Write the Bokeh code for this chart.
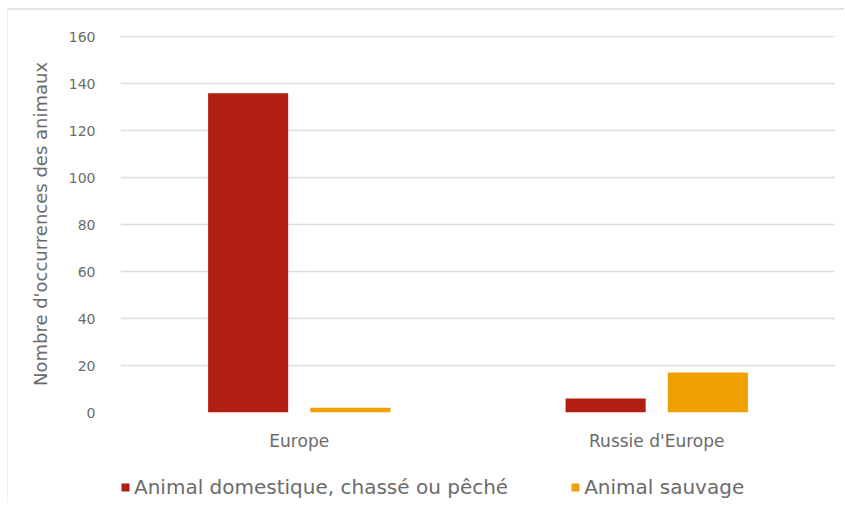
from bokeh.plotting import figure
from bokeh.models import ColumnDataSource, FactorRange, Legend, LegendItem, Range1d, FixedTicker
from bokeh.layouts import column
from bokeh.transform import dodge
from bokeh.embed import file_html
from bokeh.resources import INLINE

categories = ["Europe", "Russie d'Europe"]
domestique = [136, 6]
sauvage = [2, 17]
series_names = ["Animal domestique, chassé ou pêché", "Animal sauvage"]
colors = ["#b01f12", "#f0a000"]
y_ticks = [0, 20, 40, 60, 80, 100, 120, 140, 160]

src = ColumnDataSource(dict(cat=categories, dom=domestique, sau=sauvage))

FONT = "DejaVu Sans"
GRAY = "#6b6b6b"

p = figure(x_range=FactorRange(*categories), y_range=Range1d(0, 160.6),
           width=836, height=452, frame_width=715, frame_height=377,
           output_backend="svg", toolbar_location=None,
           min_border_left=112, min_border_right=0, min_border_top=25, min_border_bottom=0)

r1 = p.vbar(x=dodge("cat", -0.143, range=p.x_range), top="dom", width=0.224, source=src,
            fill_color=colors[0], line_color=None)
r2 = p.vbar(x=dodge("cat", 0.143, range=p.x_range), top="sau", width=0.224, source=src,
            fill_color=colors[1], line_color=None)

p.outline_line_color = None
p.xgrid.grid_line_color = None
p.ygrid.grid_line_color = "#dedede"
p.ygrid.grid_line_width = 1.5
p.yaxis.ticker = FixedTicker(ticks=y_ticks)
for ax in (p.xaxis[0], p.yaxis[0]):
    ax.axis_line_color = None
    ax.major_tick_line_color = None
    ax.minor_tick_line_color = None
    ax.major_label_text_font = FONT
    ax.major_label_text_color = GRAY
p.xaxis.major_label_text_font_size = "17px"
p.yaxis.major_label_text_font_size = "14px"
p.xaxis.major_label_standoff = 12
p.yaxis.major_label_standoff = 19
p.yaxis.axis_label = "Nombre d'occurrences des animaux"
p.yaxis.axis_label_text_font = FONT
p.yaxis.axis_label_text_font_style = "normal"
p.yaxis.axis_label_text_color = GRAY
p.yaxis.axis_label_text_font_size = "18px"
p.yaxis.axis_label_standoff = 15

# legend strip below the chart (its frame is aligned with the chart's frame);
# its proxy renderers reuse the series data but fall outside the strip's ranges
pl = figure(width=836, height=50, output_backend="svg", toolbar_location=None,
            x_range=Range1d(-1, 1), y_range=Range1d(-1, 1),
            min_border=0, outline_line_color=None)
pl.axis.visible = False
pl.grid.visible = False
lr1 = pl.vbar(x="dom", top="dom", width=0.1, source=src, fill_color=colors[0], line_color=None)
lr2 = pl.vbar(x="sau", top="sau", width=0.1, source=src, fill_color=colors[1], line_color=None)
legend = Legend(items=[LegendItem(label=series_names[0], renderers=[lr1]),
                       LegendItem(label=series_names[1], renderers=[lr2])],
                orientation="horizontal", location=(0, 4))
legend.label_text_font = FONT
legend.label_text_color = GRAY
legend.label_text_font_size = "20px"
legend.glyph_width = 10
legend.glyph_height = 10
legend.spacing = 62
legend.label_standoff = 4
legend.padding = 0
legend.margin = 0
legend.border_line_color = None
legend.background_fill_alpha = 0
pl.add_layout(legend, "center")

layout = column(p, pl, spacing=0,
                styles={"margin-top": "8px", "margin-left": "7px",
                        "border-top": "2px solid #e3e3e3", "border-left": "1px solid #f0f0f0"})

open("out.html", "w").write(file_html(layout, INLINE))
